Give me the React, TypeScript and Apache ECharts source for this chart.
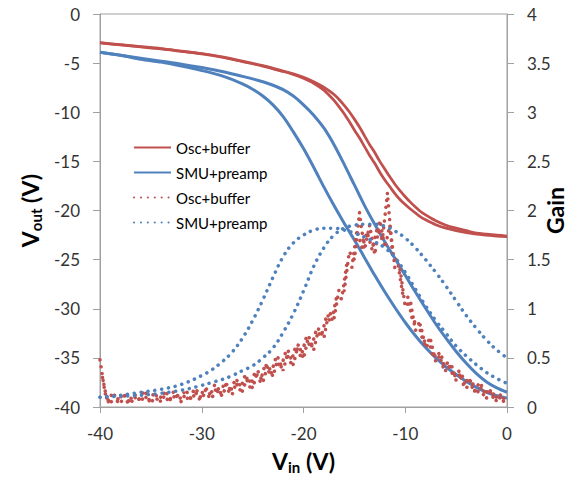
import React, { useEffect, useRef } from 'react';
import * as echarts from 'echarts';

const RED = '#C0504D';
const BLUE = '#4F81BD';
const FONT = 'Lato, "Open Sans", sans-serif';

// Ticks
const xTicks = { min: -40, max: 0, interval: 10 };
const voutTicks = { min: -40, max: 0, interval: 5 };
const gainTicks = { min: 0, max: 4, interval: 0.5 };

// Legend labels
const legendNames = ['Osc+buffer (Vout)', 'SMU+preamp (Vout)', 'Osc+buffer (Gain)', 'SMU+preamp (Gain)'];

// Osc+buffer Vout (two sweeps)
const xRedVout = [-40, -38, -36, -34, -32, -30, -28, -26, -24, -22, -21, -20, -19, -18, -17.5, -17, -16.5, -16, -15.5, -15, -14.5, -14, -13.5, -13, -12.5, -12, -11.5, -11, -10.5, -10, -9.5, -9, -8.5, -8, -7, -6, -5, -4, -3, -2, -1, 0];
const redVoutA = [-2.95, -3.15, -3.35, -3.55, -3.8, -4.05, -4.4, -4.85, -5.3, -5.85, -6.15, -6.55, -7.05, -7.75, -8.25, -8.8, -9.45, -10.15, -10.95, -11.8, -12.6, -13.5, -14.4, -15.2, -16.1, -16.9, -17.6, -18.3, -18.9, -19.4, -19.85, -20.25, -20.65, -20.95, -21.45, -21.8, -22.05, -22.25, -22.4, -22.5, -22.6, -22.65];
const redVoutB = [-2.92, -3.12, -3.32, -3.52, -3.77, -4.02, -4.37, -4.8, -5.25, -5.8, -6.1, -6.45, -6.9, -7.45, -7.8, -8.2, -8.7, -9.3, -9.95, -10.7, -11.5, -12.4, -13.3, -14.1, -15.0, -15.8, -16.6, -17.35, -18.0, -18.6, -19.15, -19.65, -20.1, -20.45, -21.05, -21.5, -21.8, -22.05, -22.3, -22.4, -22.5, -22.6];

// SMU+preamp Vout (two sweeps)
const xBlueVout = [-40, -38, -36, -34, -32, -30, -28, -26, -25, -24, -23, -22, -21, -20, -19, -18, -17, -16, -15, -14, -13, -12, -11, -10, -9, -8, -7, -6, -5, -4, -3, -2, -1, 0];
const blueVoutL = [-3.9, -4.2, -4.6, -4.9, -5.3, -5.75, -6.3, -7.1, -7.65, -8.35, -9.25, -10.45, -12.0, -13.7, -15.6, -17.6, -19.5, -21.3, -23.0, -24.8, -26.6, -28.3, -29.9, -31.4, -32.75, -33.95, -35.0, -35.9, -36.7, -37.4, -38.0, -38.5, -38.85, -39.1];
const blueVoutR = [-3.9, -4.2, -4.5, -4.8, -5.1, -5.45, -5.85, -6.35, -6.6, -6.9, -7.25, -7.7, -8.35, -9.25, -10.3, -11.6, -13.3, -15.3, -17.4, -19.5, -21.4, -23.2, -24.9, -26.6, -28.3, -29.95, -31.55, -33.0, -34.35, -35.55, -36.6, -37.45, -38.05, -38.5];

// SMU+preamp gain (two sweeps)
const xBlueGain = [-40, -38, -36, -34, -32, -30, -29, -28, -27, -26, -25, -24, -23, -22, -21, -20, -19, -18, -17, -16, -15, -14, -13, -12, -11, -10, -9, -8, -7, -6, -5, -4, -3, -2, -1, 0];
const blueGain1 = [0.10, 0.12, 0.15, 0.18, 0.23, 0.32, 0.38, 0.46, 0.56, 0.70, 0.88, 1.09, 1.32, 1.53, 1.67, 1.75, 1.80, 1.82, 1.82, 1.80, 1.77, 1.73, 1.68, 1.62, 1.52, 1.37, 1.20, 1.03, 0.88, 0.75, 0.62, 0.52, 0.43, 0.35, 0.29, 0.24];
const blueGain2 = [0.10, 0.11, 0.12, 0.14, 0.17, 0.22, 0.25, 0.28, 0.32, 0.37, 0.42, 0.50, 0.60, 0.76, 0.95, 1.18, 1.43, 1.62, 1.75, 1.82, 1.85, 1.86, 1.86, 1.84, 1.79, 1.72, 1.62, 1.50, 1.37, 1.23, 1.08, 0.93, 0.80, 0.68, 0.58, 0.50];

// Osc+buffer gain (two noisy sweeps)
const xRedGainA = [-40, -39.5, -39, -38.5, -38, -37.5, -37, -36.5, -36, -35.5, -35, -34.5, -34, -33.5, -33, -32.5, -32, -31.5, -31, -30.5, -30, -29.5, -29, -28.5, -28, -27.5, -27, -26.5, -26, -25.5, -25, -24.5, -24, -23.5, -23, -22.5, -22, -21.5, -21, -20.5, -20, -19.5, -19, -18.5, -18, -17.5, -17, -16.5, -16, -15.5, -15, -14.5, -14, -13.5, -13, -12.5, -12, -11.5, -11, -10.5, -10, -9.5, -9, -8.5, -8, -7.5, -7, -6.5, -6, -5.5, -5, -4.5, -4, -3.5, -3, -2.5, -2, -1.5, -1, -0.5, 0];
const redGainA = [0.48, 0.14, 0.03, 0.13, 0.04, 0.12, 0.03, 0.13, 0.05, 0.14, 0.04, 0.12, 0.05, 0.15, 0.06, 0.14, 0.05, 0.16, 0.07, 0.17, 0.08, 0.19, 0.09, 0.21, 0.11, 0.24, 0.13, 0.28, 0.16, 0.31, 0.19, 0.37, 0.25, 0.43, 0.31, 0.50, 0.37, 0.57, 0.43, 0.64, 0.49, 0.72, 0.58, 0.80, 0.70, 0.97, 0.90, 1.20, 1.18, 1.58, 1.50, 1.98, 1.60, 1.85, 1.55, 1.90, 1.62, 1.85, 1.40, 1.40, 1.02, 1.08, 0.78, 0.84, 0.60, 0.68, 0.46, 0.54, 0.36, 0.44, 0.27, 0.35, 0.19, 0.28, 0.13, 0.22, 0.09, 0.17, 0.05, 0.12, 0.03];
const xRedGainB = [-39.75, -39.25, -38.75, -38.25, -37.75, -37.25, -36.75, -36.25, -35.75, -35.25, -34.75, -34.25, -33.75, -33.25, -32.75, -32.25, -31.75, -31.25, -30.75, -30.25, -29.75, -29.25, -28.75, -28.25, -27.75, -27.25, -26.75, -26.25, -25.75, -25.25, -24.75, -24.25, -23.75, -23.25, -22.75, -22.25, -21.75, -21.25, -20.75, -20.25, -19.75, -19.25, -18.75, -18.25, -17.75, -17.25, -16.75, -16.25, -15.75, -15.25, -14.75, -14.25, -13.75, -13.25, -12.75, -12.25, -11.75, -11.25, -10.75, -10.25, -9.75, -9.25, -8.75, -8.25, -7.75, -7.25, -6.75, -6.25, -5.75, -5.25, -4.75, -4.25, -3.75, -3.25, -2.75, -2.25, -1.75, -1.25, -0.75, -0.25];
const redGainB = [0.30, 0.04, 0.15, 0.05, 0.14, 0.04, 0.12, 0.06, 0.15, 0.05, 0.13, 0.06, 0.15, 0.05, 0.16, 0.07, 0.15, 0.06, 0.18, 0.08, 0.19, 0.10, 0.22, 0.12, 0.25, 0.14, 0.27, 0.17, 0.32, 0.20, 0.36, 0.26, 0.44, 0.32, 0.49, 0.39, 0.56, 0.45, 0.62, 0.51, 0.70, 0.60, 0.78, 0.72, 0.92, 0.86, 1.12, 1.10, 1.45, 1.42, 1.80, 1.62, 1.78, 1.60, 1.82, 1.70, 2.18, 1.55, 1.48, 1.15, 1.12, 0.86, 0.88, 0.66, 0.70, 0.50, 0.56, 0.40, 0.46, 0.30, 0.37, 0.22, 0.30, 0.15, 0.24, 0.11, 0.19, 0.07, 0.14, 0.04];

const zip = (xs: number[], ys: number[]) => xs.map((x, i) => [x, ys[i]]);

const axisColor = '#a0a0a0';
const labelStyle = { fontSize: 17, color: '#333', fontFamily: FONT };
const richName = {
  v: { fontSize: 23, fontWeight: 'bold', color: '#000', fontFamily: FONT },
  s: { fontSize: 15, fontWeight: 'bold', color: '#000', fontFamily: FONT, padding: [12, 0, 0, 0] },
};

export default function App() {
  const ref = useRef<HTMLDivElement>(null);
  useEffect(() => {
    const chart = echarts.init(ref.current!, null, { renderer: 'svg' });
    const solid = (name: string, xs: number[], ys: number[], color: string, width: number) => ({
      type: 'line', name, data: zip(xs, ys), yAxisIndex: 0, symbol: 'none', smooth: 0.3,
      lineStyle: { color, width }, itemStyle: { color },
    });
    const dotted = (name: string, xs: number[], ys: number[], color: string, smooth: number | boolean) => ({
      type: 'line', name, data: zip(xs, ys), yAxisIndex: 1, symbol: 'none', smooth,
      lineStyle: { color, width: 3.5, type: [0.1, 6.8], cap: 'round' }, itemStyle: { color },
    });
    chart.setOption({
      animation: false,
      backgroundColor: '#fff',
      grid: {
        left: 100, right: 72, top: 14, bottom: 78, show: true, borderColor: axisColor, borderWidth: 1,
        outerBoundsMode: 'none', containLabel: false,
      },
      legend: {
        data: legendNames,
        orient: 'vertical', left: 128, top: 135,
        itemWidth: 37, itemHeight: 15, itemGap: 10,
        itemStyle: { opacity: 0 },
        textStyle: { fontSize: 15, color: '#000', fontFamily: FONT },
        formatter: (n: string) => n.replace(' (Vout)', '').replace(' (Gain)', ''),
      },
      xAxis: {
        type: 'value', ...xTicks,
        name: '{v|V}{s|in}{v| (V)}', nameLocation: 'middle', nameGap: 40,
        nameTextStyle: { rich: richName },
        axisLine: { show: true, onZero: false, lineStyle: { color: axisColor } },
        axisTick: { show: true, length: 6, lineStyle: { color: axisColor } },
        axisLabel: { ...labelStyle, margin: 18 },
        splitLine: { show: false },
      },
      yAxis: [
        {
          type: 'value', ...voutTicks, position: 'left',
          name: '{v|V}{s|out}{v| (V)}', nameLocation: 'middle', nameGap: 56,
          nameTextStyle: { rich: richName },
          axisLine: { show: true, onZero: false, lineStyle: { color: axisColor } },
          axisTick: { show: true, length: 7, lineStyle: { color: axisColor } },
          axisLabel: { ...labelStyle, margin: 20 },
          splitLine: { show: false },
        },
        {
          type: 'value', ...gainTicks, position: 'right',
          name: 'Gain', nameLocation: 'middle', nameGap: 36, nameMoveOverlap: false,
          nameTextStyle: { fontSize: 23, fontWeight: 'bold', color: '#000', fontFamily: FONT },
          axisLine: { show: true, onZero: false, lineStyle: { color: axisColor } },
          axisTick: { show: true, length: 7, lineStyle: { color: axisColor } },
          axisLabel: { ...labelStyle, margin: 20 },
          splitLine: { show: false },
        },
      ],
      series: [
        solid(legendNames[0], xRedVout, redVoutA, RED, 2.75),
        solid(legendNames[0], xRedVout, redVoutB, RED, 2.75),
        solid(legendNames[1], xBlueVout, blueVoutL, BLUE, 3),
        solid(legendNames[1], xBlueVout, blueVoutR, BLUE, 3),
        dotted(legendNames[2], xRedGainA, redGainA, RED, false),
        dotted(legendNames[2], xRedGainB, redGainB, RED, false),
        dotted(legendNames[3], xBlueGain, blueGain1, BLUE, 0.4),
        dotted(legendNames[3], xBlueGain, blueGain2, BLUE, 0.4),
      ],
    });
    return () => chart.dispose();
  }, []);
  return <div ref={ref} style={{ position: 'fixed', left: 0, top: 0, width: 579, height: 485, background: '#fff' }} />;
}
